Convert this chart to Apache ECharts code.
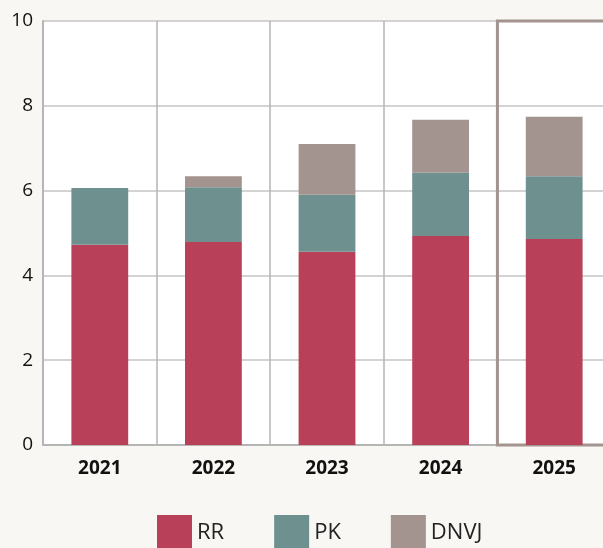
<!DOCTYPE html>
<html>
<head>
<meta charset="utf-8">
<script src="https://cdn.jsdelivr.net/npm/echarts@6/dist/echarts.min.js"></script>
<style>
  html, body { margin: 0; padding: 0; background: #f8f7f3; }
  #chart { width: 603px; height: 548px; }
</style>
</head>
<body>
<div id="chart"></div>
<script>
var years = ['2021', '2022', '2023', '2024', '2025'];
var rr = [4.72, 4.79, 4.56, 4.93, 4.86];
var pk = [1.34, 1.29, 1.34, 1.49, 1.48];
var dnvj = [0, 0.26, 1.20, 1.25, 1.40];
var highlightYear = '2025';

var font = '"Open Sans", sans-serif';
var chart = echarts.init(document.getElementById('chart'));

chart.setOption({
  backgroundColor: '#f8f7f3',
  animation: false,
  grid: {
    left: 43, width: 568, top: 21, height: 424,
    containLabel: false, outerBoundsMode: 'none',
    show: true, backgroundColor: '#ffffff', borderWidth: 0
  },
  legend: {
    left: 157,
    top: 515,
    padding: 0,
    itemWidth: 35,
    itemHeight: 35,
    itemGap: 50,
    icon: 'rect',
    textStyle: { fontFamily: font, fontSize: 22, color: '#222' },
    data: ['RR', 'PK', 'DNVJ']
  },
  xAxis: {
    type: 'category',
    data: years,
    axisLine: { lineStyle: { color: '#b5b5b5', width: 2 } },
    axisTick: { show: false },
    splitLine: { show: true, lineStyle: { color: '#b5b5b5', width: 1.5 } },
    axisLabel: { fontFamily: font, fontSize: 19, fontWeight: 'bold', color: '#111', margin: 14 }
  },
  yAxis: {
    type: 'value',
    min: 0,
    max: 10,
    interval: 2,
    axisLine: { show: true, lineStyle: { color: '#b5b5b5', width: 2 } },
    axisTick: { show: false },
    splitLine: { lineStyle: { color: '#c4c4c4', width: 1.5 } },
    axisLabel: { fontFamily: font, fontSize: 19, color: '#111', margin: 10 }
  },
  series: [
    {
      name: 'RR', type: 'bar', stack: 'total', barWidth: '50%',
      itemStyle: { color: '#b84058' }, data: rr,
      markArea: {
        silent: true,
        itemStyle: { color: 'rgba(0,0,0,0)', borderColor: '#a39490', borderWidth: 3 },
        data: [[{ xAxis: highlightYear, yAxis: 0 }, { xAxis: highlightYear, yAxis: 10 }]]
      }
    },
    { name: 'PK', type: 'bar', stack: 'total', itemStyle: { color: '#6e918f' }, data: pk },
    { name: 'DNVJ', type: 'bar', stack: 'total', itemStyle: { color: '#a39490' }, data: dnvj }
  ]
});
</script>
</body>
</html>
